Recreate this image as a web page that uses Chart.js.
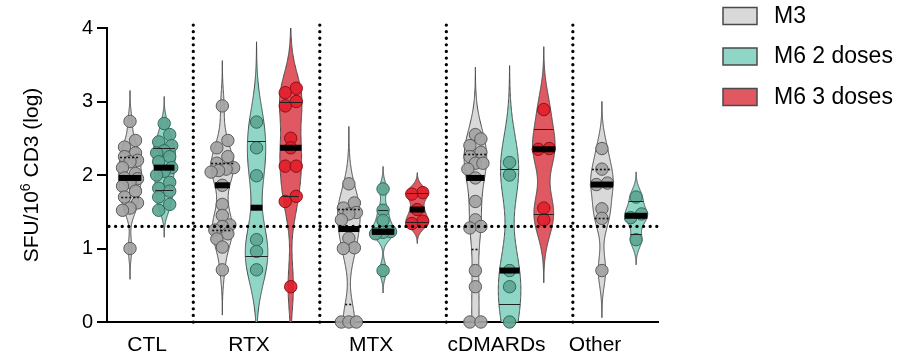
<!DOCTYPE html>
<html><head><meta charset="utf-8">
<script src="https://cdn.jsdelivr.net/npm/chart.js@4.4.1/dist/chart.umd.min.js"></script>
<style>html,body{margin:0;padding:0;background:#fff}#wrap{width:910px;height:357px}</style>
</head><body><div id="wrap"><canvas id="c" width="910" height="357"></canvas></div>
<script>
// ---------- data ----------
const categories = ['CTL', 'RTX', 'MTX', 'cDMARDs', 'Other'];
const seriesNames = ['M3', 'M6 2 doses', 'M6 3 doses'];
const yTickValues = [0, 1, 2, 3, 4];
const thresholdValue = 1.3;
const yTitleMain = 'SFU/10', yTitleSup = '6', yTitleRest = ' CD3 (log)';

const ctlM3 = [2.73, 2.47, 2.38, 2.30, 2.25, 2.20, 2.18, 2.10, 2.02, 1.96, 1.95, 1.90, 1.85, 1.78, 1.70, 1.62, 1.55, 1.52, 1.00];
const ctlM6x2 = [2.70, 2.55, 2.45, 2.40, 2.33, 2.30, 2.25, 2.18, 2.10, 2.05, 2.00, 1.90, 1.82, 1.78, 1.70, 1.60, 1.52];
const rtxM3 = [2.94, 2.47, 2.37, 2.25, 2.16, 2.10, 2.08, 2.06, 2.04, 1.86, 1.60, 1.45, 1.32, 1.30, 1.25, 1.20, 1.13, 1.02, 0.71];
const rtxM6x2 = [2.72, 2.37, 1.99, 1.12, 0.96, 0.71];
const rtxM6x3 = [3.18, 3.12, 3.00, 2.94, 2.50, 2.37, 2.12, 2.12, 1.71, 1.64, 0.48];
const mtxM3 = [1.88, 1.62, 1.55, 1.49, 1.47, 1.39, 1.14, 1.01, 1.00, 0, 0, 0];
const mtxM6x2 = [1.81, 1.52, 1.38, 1.23, 1.22, 1.20, 0.70];
const mtxM6x3 = [1.76, 1.74, 1.53, 1.37, 1.34];
const cdmM3 = [2.55, 2.49, 2.40, 2.31, 2.25, 2.16, 2.16, 2.08, 1.96, 1.64, 1.39, 1.30, 1.28, 0.70, 0.48, 0, 0];
const cdmM6x2 = [2.17, 2.00, 0.70, 0.48, 0];
const cdmM6x3 = [2.89, 2.36, 2.35, 1.55, 1.39];
const otherM3 = [2.36, 2.08, 1.89, 1.87, 1.54, 1.41, 0.70];
const otherM6x2 = [1.70, 1.47, 1.42, 1.12];

const groupSeries = [
  [ctlM3, ctlM6x2],
  [rtxM3, rtxM6x2, rtxM6x3],
  [mtxM3, mtxM6x2, mtxM6x3],
  [cdmM3, cdmM6x2, cdmM6x3],
  [otherM3, otherM6x2]
];

// ---------- style / layout ----------
const FONT = '"Liberation Sans", Arial, sans-serif';
const violinFill = ['#d9d9d9', '#8fd6c6', '#e05862'];
const pointFill = ['rgba(163,163,163,0.92)', 'rgba(95,165,146,0.92)', 'rgba(226,32,44,0.92)'];
const pointBorder = ['#5a5a5a', '#2e6b5b', '#8a1018'];
const GROUP_GAP = 1.7;
const labelShift = [0, -0.22, -0.35, -0.38, -0.7];
const X_MIN = -0.673, X_MAX = 15.44;
const HALF_W = 0.33;
const PX_X = 34.2, PX_Y = 73.5;

const violins = [];
const labelPos = [];
const sepPos = [];
let cursor = 0;
groupSeries.forEach((g, gi) => {
  const start = cursor;
  g.forEach((vals, si) => violins.push({ pos: cursor + si, series: si, vals }));
  const end = cursor + g.length - 1;
  labelPos.push((start + end) / 2 + labelShift[gi]);
  if (gi < groupSeries.length - 1) sepPos.push(end + GROUP_GAP / 2);
  cursor = end + GROUP_GAP;
});

function quant(s, p) {
  const n = s.length;
  let r = p * (n + 1);
  if (r < 1) r = 1;
  if (r > n) r = n;
  const lo = Math.floor(r), f = r - lo;
  if (lo >= n) return s[n - 1];
  return s[lo - 1] + f * (s[lo] - s[lo - 1]);
}

violins.forEach(v => {
  const s = [...v.vals].sort((a, b) => a - b);
  const n = s.length;
  const mean = s.reduce((a, b) => a + b, 0) / n;
  const sd = Math.sqrt(s.reduce((a, b) => a + (b - mean) * (b - mean), 0) / (n - 1));
  v.q1 = quant(s, 0.25); v.med = quant(s, 0.5); v.q3 = quant(s, 0.75);
  let spread = Math.min(sd, (v.q3 - v.q1) / 1.34);
  if (!(spread > 0)) spread = sd;
  const h = 0.63 * spread * Math.pow(n, -0.2);
  const dens = y => s.reduce((a, xi) => a + Math.exp(-0.5 * ((y - xi) / h) ** 2), 0);
  v.lo = s[0] - 3 * h; v.hi = s[n - 1] + 3 * h;
  const N = 300;
  v.grid = [];
  let maxD = 0;
  for (let i = 0; i <= N; i++) {
    const y = v.lo + (v.hi - v.lo) * i / N;
    const d = dens(y);
    maxD = Math.max(maxD, d);
    v.grid.push([y, d]);
  }
  v.hw = y => dens(y) / maxD * HALF_W;
  v.grid = v.grid.map(([y, d]) => [y, d / maxD * HALF_W]);
  // swarm offsets
  const idx = v.vals.map((_, i) => i).sort((a, b) => v.vals[a] - v.vals[b]);
  const off = new Array(n).fill(0);
  let row = [];
  const flush = () => {
    const k = row.length;
    const sp = k === 2 ? 11 : 7.5;
    row.forEach((id, j) => { off[id] = (j - (k - 1) / 2) * sp / PX_X; });
    row = [];
  };
  idx.forEach(id => {
    if (row.length && (v.vals[id] - v.vals[row[0]]) * PX_Y > 7.5) flush();
    row.push(id);
  });
  flush();
  v.off = off;
});

const datasets = seriesNames.map((name, si) => ({
  label: name,
  data: violins.filter(v => v.series === si).flatMap(v => v.vals.map((y, i) => ({ x: v.pos + v.off[i], y }))),
  pointRadius: 6.2,
  pointBorderWidth: 1,
  pointBackgroundColor: pointFill[si],
  pointBorderColor: pointBorder[si],
  showLine: false,
  clip: false
}));

const violinPlugin = {
  id: 'violins',
  beforeDatasetsDraw(chart) {
    const { ctx, chartArea: ca, scales: { x, y } } = chart;
    ctx.save();
    ctx.beginPath();
    ctx.rect(ca.left, ca.top, ca.right - ca.left, ca.bottom - ca.top);
    ctx.clip();
    violins.forEach(v => {
      ctx.beginPath();
      v.grid.forEach(([yy, w], i) => {
        const px = x.getPixelForValue(v.pos + w), py = y.getPixelForValue(yy);
        if (i === 0) ctx.moveTo(px, py); else ctx.lineTo(px, py);
      });
      for (let i = v.grid.length - 1; i >= 0; i--) {
        const [yy, w] = v.grid[i];
        ctx.lineTo(x.getPixelForValue(v.pos - w), y.getPixelForValue(yy));
      }
      ctx.closePath();
      ctx.fillStyle = violinFill[v.series];
      ctx.fill();
      ctx.lineWidth = 1;
      ctx.strokeStyle = '#4a4a4a';
      ctx.stroke();
    });
    ctx.restore();
  },
  afterDatasetsDraw(chart) {
    const { ctx, chartArea: ca, scales: { x, y } } = chart;
    ctx.save();
    // quartiles
    violins.forEach(v => {
      [v.q1, v.q3].forEach(q => {
        const w = v.hw(q);
        const py = Math.round(y.getPixelForValue(q)) + 0.5;
        ctx.beginPath();
        ctx.moveTo(x.getPixelForValue(v.pos - w), py);
        ctx.lineTo(x.getPixelForValue(v.pos + w), py);
        if (v.series === 0) { ctx.setLineDash([2, 2]); ctx.lineWidth = 1.6; ctx.strokeStyle = '#111'; }
        else { ctx.setLineDash([]); ctx.lineWidth = 1; ctx.strokeStyle = '#222'; }
        ctx.stroke();
      });
      ctx.setLineDash([]);
      const w = v.hw(v.med);
      const x0 = x.getPixelForValue(v.pos - w), x1 = x.getPixelForValue(v.pos + w);
      ctx.fillStyle = '#000';
      ctx.fillRect(x0, y.getPixelForValue(v.med) - 3, x1 - x0, 6);
    });
    // dotted reference lines
    ctx.setLineDash([0, 6.6]);
    ctx.lineCap = 'round';
    ctx.lineWidth = 3.3;
    ctx.strokeStyle = '#000';
    const ty = y.getPixelForValue(thresholdValue);
    ctx.beginPath();
    ctx.moveTo(ca.left + 2, ty);
    ctx.lineTo(ca.right, ty);
    ctx.stroke();
    sepPos.forEach(sp => {
      const px = x.getPixelForValue(sp);
      ctx.beginPath();
      ctx.moveTo(px, y.getPixelForValue(4.04));
      ctx.lineTo(px, ca.bottom + 3);
      ctx.stroke();
    });
    ctx.restore();
  },
  afterDraw(chart) {
    const { ctx, chartArea: ca } = chart;
    ctx.save();
    // y title
    const fMain = '21px ' + FONT, fSup = '14px ' + FONT;
    ctx.font = fMain;
    const w1 = ctx.measureText(yTitleMain).width, w3 = ctx.measureText(yTitleRest).width;
    ctx.font = fSup;
    const w2 = ctx.measureText(yTitleSup).width;
    const total = w1 + w2 + w3;
    ctx.translate(32, (ca.top + ca.bottom) / 2);
    ctx.rotate(-Math.PI / 2);
    ctx.fillStyle = '#000';
    ctx.textBaseline = 'middle';
    ctx.textAlign = 'left';
    let cx = -total / 2;
    ctx.font = fMain; ctx.fillText(yTitleMain, cx, 0); cx += w1;
    ctx.font = fSup; ctx.fillText(yTitleSup, cx, -6); cx += w2;
    ctx.font = fMain; ctx.fillText(yTitleRest, cx, 0);
    ctx.restore();
    // legend
    ctx.save();
    ctx.font = '23px ' + FONT;
    ctx.textBaseline = 'middle';
    seriesNames.forEach((name, i) => {
      const top = 7.5 + i * 40.5;
      ctx.fillStyle = violinFill[i];
      ctx.fillRect(723, top, 34, 17);
      ctx.strokeStyle = '#4a4a4a';
      ctx.lineWidth = 1.5;
      ctx.strokeRect(723, top, 34, 17);
      ctx.fillStyle = '#000';
      ctx.fillText(name, 774, top + 9);
    });
    ctx.restore();
  }
};

new Chart(document.getElementById('c'), {
  type: 'scatter',
  data: { datasets },
  options: {
    responsive: false,
    animation: false,
    devicePixelRatio: 1,
    layout: { padding: { left: 0, top: 28, right: 252, bottom: 0 } },
    plugins: { legend: { display: false }, tooltip: { enabled: false } },
    scales: {
      x: {
        type: 'linear', min: X_MIN, max: X_MAX,
        afterBuildTicks: s => { s.ticks = labelPos.map(v => ({ value: v })); },
        afterFit: s => { s.height = 35; },
        ticks: { callback: (v, i) => categories[i], color: '#000', font: { size: 21, family: FONT }, padding: 3, maxRotation: 0, autoSkip: false },
        grid: { display: false },
        border: { display: true, color: '#000', width: 2 }
      },
      y: {
        min: 0, max: 4,
        afterBuildTicks: s => { s.ticks = yTickValues.map(v => ({ value: v })); },
        afterFit: s => { s.width = 107; },
        ticks: { color: '#000', font: { size: 20, family: FONT }, padding: 4 },
        grid: { drawOnChartArea: false, drawTicks: true, tickLength: 10, color: '#000', lineWidth: 2 },
        border: { display: true, color: '#000', width: 2 }
      }
    }
  },
  plugins: [violinPlugin]
});
</script></body></html>
